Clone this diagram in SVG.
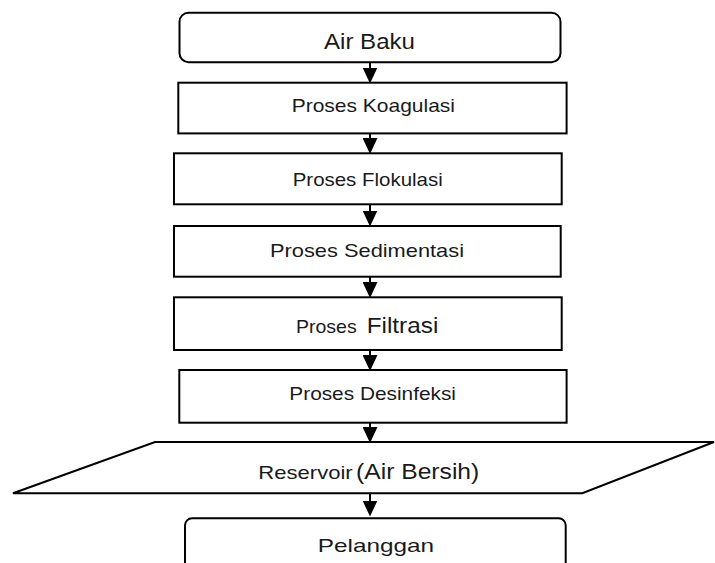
<svg xmlns="http://www.w3.org/2000/svg" width="715" height="563" viewBox="0 0 715 563">
<style>
.box{fill:#fff;stroke:#000;stroke-width:2}
.conn{stroke:#000;stroke-width:2;fill:none}
text{font-family:"Liberation Sans",Arial,sans-serif;fill:#1a1a1a}
.s{font-size:18.5px}
.b{font-size:22.5px}
</style>
<defs>
<marker id="ah" markerUnits="userSpaceOnUse" markerWidth="16" markerHeight="15" viewBox="0 0 16 15" refX="5" refY="7.5" orient="auto">
<path d="M0,0 L16,7.5 L0,15 z" fill="#000"/>
</marker>
</defs>
<rect width="715" height="563" fill="#fff"/>
<g id="connectors">
<line class="conn" x1="370" y1="62" x2="370" y2="72.5" marker-end="url(#ah)"/>
<line class="conn" x1="370" y1="133.3" x2="370" y2="143" marker-end="url(#ah)"/>
<line class="conn" x1="370" y1="204.3" x2="370" y2="215.5" marker-end="url(#ah)"/>
<line class="conn" x1="370" y1="276.7" x2="370" y2="287" marker-end="url(#ah)"/>
<line class="conn" x1="370" y1="350" x2="370" y2="360" marker-end="url(#ah)"/>
<line class="conn" x1="370" y1="422.7" x2="370" y2="432" marker-end="url(#ah)"/>
<line class="conn" x1="370" y1="493.3" x2="370" y2="505.5" marker-end="url(#ah)"/>
</g>
<g id="air-baku">
<rect class="box" x="179.5" y="12.7" width="381" height="49.5" rx="9"/>
<text class="b" x="324" y="49.3" textLength="91" lengthAdjust="spacingAndGlyphs">Air Baku</text>
</g>
<g id="koagulasi">
<rect class="box" x="178.3" y="82.7" width="388.3" height="50.7"/>
<text class="s" x="291.7" y="111.7" textLength="163.3" lengthAdjust="spacingAndGlyphs">Proses Koagulasi</text>
</g>
<g id="flokulasi">
<rect class="box" x="174" y="153.3" width="387.7" height="51"/>
<text class="s" x="292.7" y="185.7" textLength="150" lengthAdjust="spacingAndGlyphs">Proses Flokulasi</text>
</g>
<g id="sedimentasi">
<rect class="box" x="174" y="226" width="386.7" height="50.7"/>
<text class="s" x="270" y="256.7" textLength="194" lengthAdjust="spacingAndGlyphs">Proses Sedimentasi</text>
</g>
<g id="filtrasi">
<rect class="box" x="174" y="297.3" width="387.7" height="52.7"/>
<text y="333.3"><tspan class="s" x="296" textLength="60.7" lengthAdjust="spacingAndGlyphs">Proses</tspan><tspan class="b" x="366.7" textLength="71.6" lengthAdjust="spacingAndGlyphs">Filtrasi</tspan></text>
</g>
<g id="desinfeksi">
<rect class="box" x="179.3" y="370" width="387.3" height="52.7"/>
<text class="s" x="289.3" y="400" textLength="166.7" lengthAdjust="spacingAndGlyphs">Proses Desinfeksi</text>
</g>
<g id="reservoir">
<polygon class="box" points="155,442 714,442 582.3,493.3 13,493.3"/>
<text y="479.3"><tspan class="s" x="258.3" textLength="94.4" lengthAdjust="spacingAndGlyphs">Reservoir</tspan><tspan class="b" x="356" textLength="123.3" lengthAdjust="spacingAndGlyphs">(Air Bersih)</tspan></text>
</g>
<g id="pelanggan">
<rect class="box" x="185" y="518.3" width="380.7" height="60" rx="7"/>
<text class="s" x="317.8" y="551.7" textLength="116.3" lengthAdjust="spacingAndGlyphs">Pelanggan</text>
</g>
</svg>
